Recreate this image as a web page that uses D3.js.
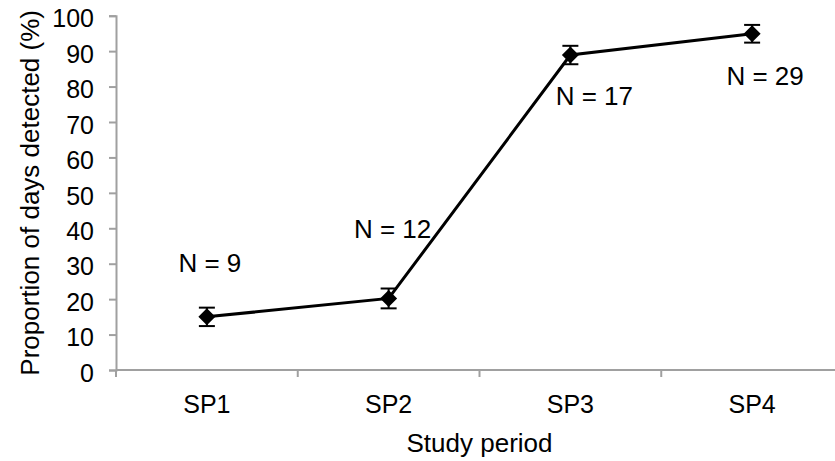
<!DOCTYPE html>
<html>
<head>
<meta charset="utf-8">
<script src="https://cdn.jsdelivr.net/npm/d3@7"></script>
<style>
  body { margin: 0; background: #fff; }
  text { font-family: "Liberation Sans", Arial, sans-serif; fill: #000; }
</style>
</head>
<body>
<div id="chart-area"></div>
<script>
// Data
var periods = ["SP1", "SP2", "SP3", "SP4"];
var detected = [15.0, 20.2, 88.9, 94.9];
var errors = [2.6, 2.8, 2.6, 2.5];
var nValues = [9, 12, 17, 29];
// label anchor (value units) and horizontal nudge
var nLabelY = [27.7, 37.3, 74.8, 80.4];
var nLabelDx = [3, 4, 24, 13];
var yTicks = [0, 10, 20, 30, 40, 50, 60, 70, 80, 90, 100];

var width = 835;
var height = 461;
var axisColor = "#a0a0a0";

var svg = d3.select("#chart-area")
    .append("svg")
    .attr("width", width)
    .attr("height", height);

// Scales
var x = d3.scaleBand()
    .domain(periods)
    .range([116, 843])
    .padding(0);

var y = d3.scaleLinear()
    .domain([0, 100])
    .range([370, 15.7]);

// Y axis
var leftAxis = d3.axisLeft(y).tickValues(yTicks).tickSize(7).tickPadding(15);
var gy = svg.append("g")
    .attr("transform", "translate(116, 0)")
    .call(leftAxis);
gy.select(".domain").attr("stroke", axisColor).attr("stroke-width", 2);
gy.selectAll(".tick line").attr("stroke", axisColor).attr("stroke-width", 2);
gy.selectAll(".tick text")
    .attr("font-size", "25px")
    .attr("font-family", "Liberation Sans, Arial, sans-serif")
    .attr("fill", "#000")
    .attr("dy", "0.45em");

// X axis (ticks at category boundaries, labels centered)
var gx = svg.append("g");
gx.append("line")
    .attr("x1", x.range()[0]).attr("x2", x.range()[1])
    .attr("y1", y(0)).attr("y2", y(0))
    .attr("stroke", axisColor).attr("stroke-width", 2);
gx.selectAll(".xtick")
    .data(periods)
    .enter()
    .append("line")
    .attr("class", "xtick")
    .attr("x1", d => x(d)).attr("x2", d => x(d))
    .attr("y1", y(0)).attr("y2", y(0) + 7)
    .attr("stroke", axisColor).attr("stroke-width", 2);
gx.selectAll(".xlabel")
    .data(periods)
    .enter()
    .append("text")
    .attr("class", "xlabel")
    .attr("x", d => x(d) + x.bandwidth() / 2)
    .attr("y", y(0) + 43)
    .attr("text-anchor", "middle")
    .attr("font-size", "25px")
    .text(d => d);

// Axis labels
svg.append("text")
    .attr("x", (x.range()[0] + x.range()[1]) / 2)
    .attr("y", 452)
    .attr("text-anchor", "middle")
    .attr("font-size", "26px")
    .text("Study period");

svg.append("text")
    .attr("transform", "rotate(-90)")
    .attr("x", -(y(0) + y(100)) / 2)
    .attr("y", 39)
    .attr("text-anchor", "middle")
    .attr("font-size", "26px")
    .text("Proportion of days detected (%)");

var points = periods.map((p, i) => ({
    name: p,
    value: detected[i],
    err: errors[i],
    n: nValues[i],
    ly: nLabelY[i],
    dx: nLabelDx[i]
}));
var cx = (d) => x(d.name) + x.bandwidth() / 2;

// Line
var line = d3.line()
    .x(cx)
    .y(d => y(d.value));
svg.append("path")
    .datum(points)
    .attr("d", line)
    .attr("fill", "none")
    .attr("stroke", "#000")
    .attr("stroke-width", 3);

// Error bars
var eb = svg.selectAll(".err")
    .data(points)
    .enter()
    .append("g")
    .attr("class", "err")
    .attr("stroke", "#000")
    .attr("stroke-width", 2);
eb.append("line")
    .attr("x1", cx).attr("x2", cx)
    .attr("y1", d => y(d.value - d.err)).attr("y2", d => y(d.value + d.err));
eb.append("line")
    .attr("x1", d => cx(d) - 8).attr("x2", d => cx(d) + 8)
    .attr("y1", d => y(d.value + d.err)).attr("y2", d => y(d.value + d.err));
eb.append("line")
    .attr("x1", d => cx(d) - 8).attr("x2", d => cx(d) + 8)
    .attr("y1", d => y(d.value - d.err)).attr("y2", d => y(d.value - d.err));

// Diamond markers
var s = 8.5;
svg.selectAll(".marker")
    .data(points)
    .enter()
    .append("path")
    .attr("class", "marker")
    .attr("d", d => {
        var px = cx(d), py = y(d.value);
        return "M" + px + "," + (py - s) + "L" + (px + s) + "," + py +
            "L" + px + "," + (py + s) + "L" + (px - s) + "," + py + "Z";
    })
    .attr("fill", "#000");

// N labels
svg.selectAll(".nlabel")
    .data(points)
    .enter()
    .append("text")
    .attr("class", "nlabel")
    .attr("x", d => cx(d) + d.dx)
    .attr("y", d => y(d.ly))
    .attr("text-anchor", "middle")
    .attr("font-size", "26px")
    .text(d => "N = " + d.n);
</script>
</body>
</html>
